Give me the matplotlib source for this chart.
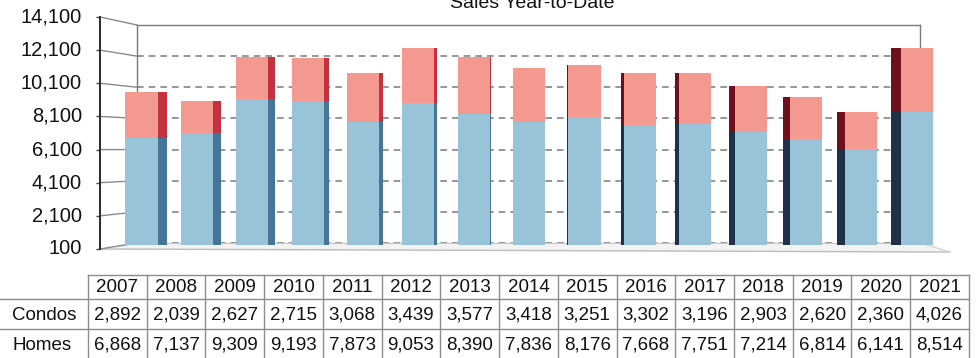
import matplotlib
matplotlib.use("Agg")
import matplotlib.pyplot as plt
from matplotlib.patches import ConnectionPatch

years = ["2007", "2008", "2009", "2010", "2011", "2012", "2013", "2014",
         "2015", "2016", "2017", "2018", "2019", "2020", "2021"]
condos = [2892, 2039, 2627, 2715, 3068, 3439, 3577, 3418,
          3251, 3302, 3196, 2903, 2620, 2360, 4026]
homes = [6868, 7137, 9309, 9193, 7873, 9053, 8390, 7836,
         8176, 7668, 7751, 7214, 6814, 6141, 8514]
row_labels = ["Condos", "Homes"]
y_ticks = [100, 2100, 4100, 6100, 8100, 10100, 12100, 14100]
title = "Sales Year-to-Date"

W, H = 980, 358
plt.rcParams["font.family"] = ["Liberation Sans", "DejaVu Sans"]
fig = plt.figure(figsize=(W / 100, H / 100), dpi=100)
fig.patch.set_facecolor("white")


def box(x0, y0, x1, y1):
    """Axes rectangle from pixel edges (origin top-left)."""
    return [x0 / W, 1 - y1 / H, (x1 - x0) / W, (y1 - y0) / H]


# pixel-space layer for the floor and the data table
ax_px = fig.add_axes([0, 0, 1, 1], zorder=0)
ax_px.set_xlim(0, W)
ax_px.set_ylim(H, 0)
ax_px.axis("off")

# back wall with dashed gridlines
ax_back = fig.add_axes(box(137, 25, 920, 243), zorder=1)
ax_back.set_facecolor("none")
ax_back.set_ylim(y_ticks[0], y_ticks[-1])
ax_back.set_xticks([])
ax_back.set_yticks(y_ticks)
ax_back.tick_params(left=False, labelleft=False)
ax_back.yaxis.grid(True, color="#858585", linestyle=(0, (4, 3)), linewidth=1.2)
for side in ["top", "left", "right"]:
    ax_back.spines[side].set_color("#7a7a7a")
    ax_back.spines[side].set_linewidth(1.0)
ax_back.spines["bottom"].set_color("#c8c8c8")

# front value axis; labels drawn as plain texts at the tick positions
ax_front = fig.add_axes(box(100, 17, 137, 249), zorder=2)
ax_front.set_facecolor("none")
ax_front.set_ylim(y_ticks[0], y_ticks[-1])
ax_front.set_yticks(y_ticks)
ax_front.tick_params(axis="y", length=3, width=1, color="#444444",
                     labelleft=False)
ax_front.set_xticks([])
for side in ["top", "right", "bottom"]:
    ax_front.spines[side].set_visible(False)
ax_front.spines["left"].set_color("#2a2a2a")
ax_front.spines["left"].set_linewidth(1.4)
for v in y_ticks:
    ax_front.text(-0.49, v, f"{v:,}", transform=ax_front.get_yaxis_transform(),
                  ha="right", va="center", fontsize=14.5, color="#111111")

# side walls: tick-to-wall connectors
for v in y_ticks:
    con = ConnectionPatch(xyA=(0, v), coordsA=ax_front.get_yaxis_transform(),
                          xyB=(0, v), coordsB=ax_back.get_yaxis_transform(),
                          color="#8a8a8a", linewidth=1.0, zorder=1)
    ax_px.add_artist(con)

# floor
ax_px.fill([100, 137, 920, 950], [249, 243, 243, 252], color="#f3f3f3", zorder=0.5)
ax_px.plot([100, 950], [249, 252], color="#bdbdbd", linewidth=1.0, zorder=0.6)
ax_px.plot([920, 950], [243, 252], color="#cfcfcf", linewidth=0.8, zorder=0.6)

# stacked bars
ax = fig.add_axes(box(100, 23, 950, 245), zorder=3)
ax.set_facecolor("none")
ax.set_ylim(y_ticks[0], y_ticks[-1])
ax.set_xlim(-0.75, 14.6)
ax.axis("off")

n = len(years)
xs = list(range(n))
fw = 0.58
front_blue, front_red = "#99c3d9", "#f3998f"
ax.bar(xs, homes, width=fw, color=front_blue, zorder=3)
ax.bar(xs, condos, width=fw, bottom=homes, color=front_red, zorder=3)

mid = 7
for i in xs:
    sw = 0.025 * abs(i - mid + 0.3)
    if i < mid:
        x_edge = i + fw / 2
        c_blue, c_red = "#46759a", "#c3323e"
    elif i > mid:
        x_edge = i - fw / 2 - sw
        c_blue, c_red = "#1f3049", "#6e0f1e"
    else:
        continue
    ax.bar(x_edge, homes[i], width=sw, align="edge", color=c_blue, zorder=2)
    ax.bar(x_edge, condos[i], width=sw, bottom=homes[i], align="edge",
           color=c_red, zorder=2)

# title (upper part falls off the top edge)
fig.text(532 / W, 1 - 8.5 / H, title, ha="center", va="baseline",
         fontsize=14, color="#111111")

# data table
col0, col_w = 88, 58.73
table_right = col0 + col_w * n
line_kw = dict(color="#8c8c8c", linewidth=1.0, zorder=1)
ax_px.plot([col0, table_right], [275, 275], **line_kw)
ax_px.plot([0, table_right], [299, 299], **line_kw)
ax_px.plot([0, table_right], [329, 329], **line_kw)
for k in range(n + 1):
    xk = col0 + k * col_w
    ax_px.plot([xk, xk], [275, H], **line_kw)

header_y, row_y = 288, [315, 345]
tfs = 13.5
for k, yr in enumerate(years):
    xc = col0 + (k + 0.5) * col_w
    ax_px.text(xc, header_y, yr, ha="center", va="center", fontsize=tfs,
               color="#111111")
    ax_px.text(xc, row_y[0], f"{condos[k]:,}", ha="center", va="center",
               fontsize=tfs, color="#111111")
    ax_px.text(xc, row_y[1], f"{homes[k]:,}", ha="center", va="center",
               fontsize=tfs, color="#111111")
for lbl, yy in zip(row_labels, row_y):
    ax_px.text(12, yy, lbl, ha="left", va="center", fontsize=tfs,
               color="#111111")

fig.savefig("out.png", dpi=100, facecolor="white")
